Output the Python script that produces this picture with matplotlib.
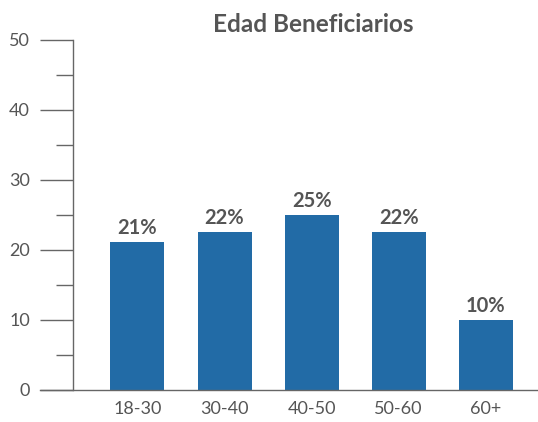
import matplotlib
matplotlib.use("Agg")
import matplotlib.pyplot as plt
import numpy as np

# Data
categories = ["18-30", "30-40", "40-50", "50-60", "60+"]
values = [21.1, 22.6, 25.0, 22.6, 10.0]
labels = ["21%", "22%", "25%", "22%", "10%"]

plt.rcParams["font.family"] = ["Lato", "DejaVu Sans"]
text_color = "#555555"
axis_color = "#666666"
bar_color = "#226ba6"

fig = plt.figure(figsize=(5.38, 4.22), dpi=100)
ax = fig.add_axes([73 / 538, 32 / 422, 1 - 73 / 538, 350 / 422])

x = np.arange(len(categories))
bars = ax.bar(x, values, width=0.62, color=bar_color, zorder=2)

for b, lab in zip(bars, labels):
    ax.text(b.get_x() + b.get_width() / 2, b.get_height() + 0.6, lab,
            ha="center", va="bottom", fontsize=14.5, fontweight="bold",
            color=text_color)

ax.set_xlim(-0.74, 4.6)
ax.set_ylim(0, 50)
ax.set_xticks(x)
ax.set_xticklabels(categories)
ax.set_yticks(np.arange(0, 51, 10))
ax.set_yticks(np.arange(5, 50, 10), minor=True)

ax.tick_params(axis="x", length=0, pad=8, labelsize=13, colors=text_color)
ax.tick_params(axis="y", which="major", length=24, width=1, pad=7,
               labelsize=13, color=axis_color, labelcolor=text_color)
ax.tick_params(axis="y", which="minor", length=12, width=1, color=axis_color)

for s in ["top", "right"]:
    ax.spines[s].set_visible(False)
for s in ["left", "bottom"]:
    ax.spines[s].set_color(axis_color)
    ax.spines[s].set_linewidth(1)
ax.spines["bottom"].set_bounds(-0.74 - 33 / 87, 4.6)
ax.spines["bottom"].set_clip_on(False)

fig.text(313 / 538, 1 - 25 / 422, "Edad Beneficiarios", ha="center", va="center",
         fontsize=17.5, fontweight="bold", color=text_color)

fig.savefig("out.png", dpi=100)
